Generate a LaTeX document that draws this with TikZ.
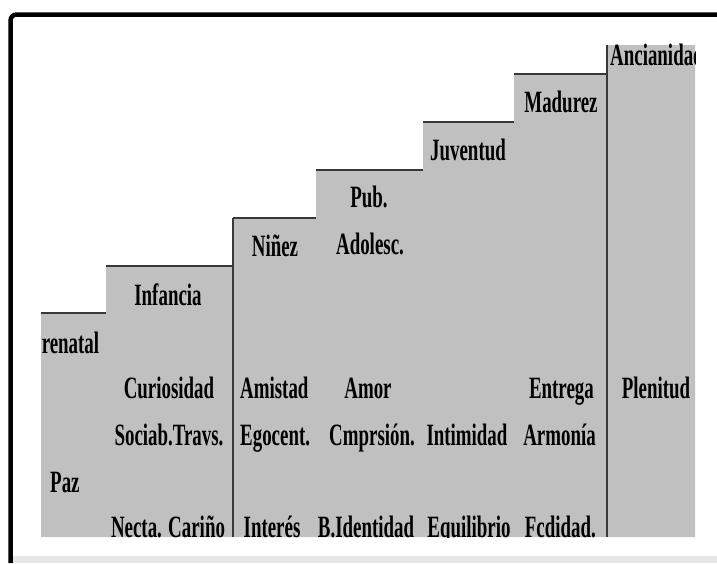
\documentclass[tikz,border=0pt]{standalone}
\usepackage{fontspec}
\newfontfamily\stagefont[FakeStretch=0.61]{Liberation Serif}
\usetikzlibrary{positioning}
\definecolor{stairgray}{HTML}{C0C0C0}
\definecolor{edgegray}{HTML}{383838}
\definecolor{shadegray}{HTML}{E6E6E6}

\begin{document}
\begin{tikzpicture}[x=1pt,y=-1pt, every node/.style={font=\stagefont\bfseries\fontsize{31}{36}\selectfont,inner sep=0pt}]
    \tikzstyle{steptop}=[draw=edgegray,line width=2pt]
    \tikzstyle{divider}=[draw=edgegray,line width=1.5pt]
    \tikzstyle{word}=[anchor=base,text=black]
    \useasboundingbox (0,0) rectangle (717,563);
    % frame
    \fill[shadegray] (13,556) rectangle (717,563);
    \draw[line width=4.5pt,rounded corners=6pt] (10.5,563) -- (10.5,14.5) -- (717,14.5);
    % stairs
    \fill[stairgray] (41,537) -- (41,313) -- (106,313) -- (106,266) -- (233,266) -- (233,218) -- (316,218) -- (316,170) -- (423,170) -- (423,122) -- (514,122) -- (514,74) -- (607,74) -- (607,45) -- (695,45) -- (695,537) -- cycle;
    \draw[steptop] (41,313) -- (106,313);
    \draw[steptop] (106,266) -- (233,266);
    \draw[steptop] (233,218) -- (316,218);
    \draw[steptop] (316,170) -- (423,170);
    \draw[steptop] (423,122) -- (514,122);
    \draw[steptop] (514,74) -- (607,74);
    \draw[divider] (233,218) -- (233,537);
    \draw[divider] (607,45) -- (607,537);
    % labels
    \begin{scope}
    \clip (41,0) rectangle (695,537);
    \node[word,anchor=base west] (prenatal) at (30,353) {Prenatal};
    \node[word] (infancia) at (168,305) {Infancia};
    \node[word] (ninez) at (275,256) {Niñez};
    \node[word] (pub) at (369,207) {Pub.};
    \node[word] (adolesc) at (370,254) {Adolesc.};
    \node[word] (juventud) at (468,160) {Juventud};
    \node[word] (madurez) at (561,112) {Madurez};
    \node[word,anchor=base west] (ancianidad) at (610,65) {Ancianidad};
    \node[word] (curiosidad) at (169,398) {Curiosidad};
    \node[word] (sociab) at (169,445) {Sociab.Travs.};
    \node[word,anchor=base west] (paz) at (50,492) {Paz};
    \node[word] (necta) at (168,537) {Necta. Cariño};
    \node[word,anchor=base west] (amistad) at (240,398) {Amistad};
    \node[word,anchor=base west] (egocent) at (240,445) {Egocent.};
    \node[word] (interes) at (272,537) {Interés};
    \node[word] (amor) at (368,398) {Amor};
    \node[word] (cmprsion) at (372,445) {Cmprsión.};
    \node[word] (identidad) at (366,537) {B.Identidad};
    \node[word] (intimidad) at (467,445) {Intimidad};
    \node[word] (equilibrio) at (469,537) {Equilibrio};
    \node[word,anchor=base east] (entrega) at (594,398) {Entrega};
    \node[word,anchor=base east] (armonia) at (596,445) {Armonía};
    \node[word,anchor=base east] (fcdidad) at (596,537) {Fcdidad.};
    \node[word] (plenitud) at (656,398) {Plenitud};
    \end{scope}
\end{tikzpicture}
\end{document}
